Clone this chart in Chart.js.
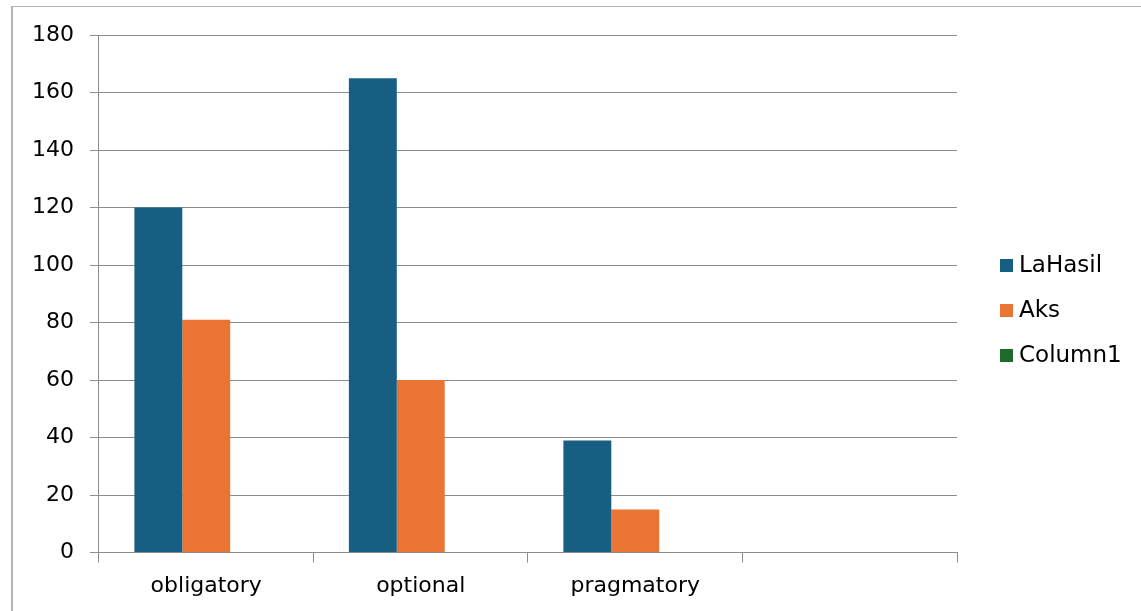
<!DOCTYPE html>
<html>
<head>
<meta charset="utf-8">
<script src="https://cdn.jsdelivr.net/npm/chart.js@4/dist/chart.umd.min.js"></script>
<style>
  html, body { margin: 0; padding: 0; background: #fff; }
  #frame { position: absolute; left: 11px; top: 6px; right: 0; bottom: 0; border-left: 2px solid #b4b4b4; border-top: 1px solid #b4b4b4; }
  #wrap { position: absolute; left: 0; top: 0; width: 1141px; height: 611px; }
</style>
</head>
<body>
<div id="frame"></div>
<div id="wrap"><canvas id="c"></canvas></div>
<script>
// categories + series (4th category is empty in the source sheet)
const categories = ['obligatory', 'optional', 'pragmatory', ''];
const laHasil = [120, 165, 39, null];
const aks = [81, 60, 15, null];
const column1 = [null, null, null, null];
const yTicks = [0, 20, 40, 60, 80, 100, 120, 140, 160, 180];

const gridCol = '#8c8c8c';
const FONT = 'DejaVu Sans, sans-serif';

// legend drawn by hand so box/text spacing matches the excel look
const sideLegend = {
    id: 'sideLegend',
    afterDraw(chart) {
        const ctx = chart.ctx;
        ctx.save();
        ctx.font = '23px ' + FONT;
        ctx.textBaseline = 'middle';
        ctx.textAlign = 'left';
        chart.data.datasets.forEach((ds, i) => {
            const y = 265 + i * 45;
            ctx.fillStyle = ds.backgroundColor;
            ctx.fillRect(1000, y - 6, 13, 13);
            ctx.fillStyle = '#000';
            ctx.fillText(ds.label, 1019, y + 1);
        });
        ctx.restore();
    }
};

new Chart(document.getElementById('c'), {
    type: 'bar',
    data: {
        labels: categories,
        datasets: [
            { label: 'LaHasil', data: laHasil, backgroundColor: '#175f82' },
            { label: 'Aks', data: aks, backgroundColor: '#e97433' },
            { label: 'Column1', data: column1, backgroundColor: '#1e6b2b' }
        ]
    },
    plugins: [sideLegend],
    options: {
        responsive: true,
        maintainAspectRatio: false,
        animation: false,
        layout: { padding: { left: 16, top: 35, right: 184, bottom: 2 } },
        datasets: { bar: { categoryPercentage: 0.67, barPercentage: 1 } },
        plugins: {
            tooltip: { enabled: false },
            legend: { display: false }
        },
        scales: {
            x: {
                offset: true,
                grid: { offset: true, drawOnChartArea: false, color: gridCol, tickLength: 10 },
                border: { color: gridCol },
                ticks: { color: '#000', padding: 10, maxRotation: 0, font: { family: FONT, size: 22 } }
            },
            y: {
                min: 0, max: 180,
                afterBuildTicks: s => { s.ticks = yTicks.map(v => ({ value: v })); },
                grid: { color: gridCol, tickLength: 9 },
                border: { color: gridCol },
                ticks: { color: '#000', padding: 16, font: { family: FONT, size: 22 } }
            }
        }
    }
});
</script>
</body>
</html>
